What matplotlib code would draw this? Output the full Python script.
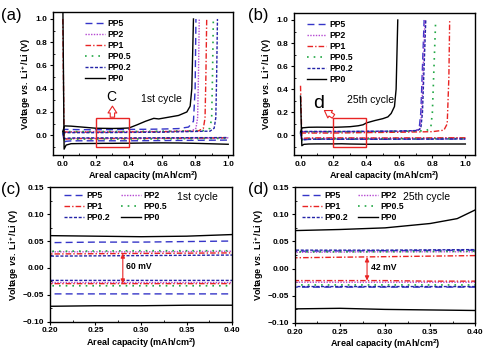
import matplotlib
matplotlib.use('Agg')
import matplotlib.pyplot as plt
from matplotlib.patches import Rectangle
from matplotlib.ticker import MultipleLocator

plt.rcParams['font.family'] = ['Liberation Sans', 'DejaVu Sans']
plt.rcParams['mathtext.fontset'] = 'custom'
plt.rcParams['mathtext.rm'] = 'Liberation Sans:bold'
plt.rcParams['mathtext.it'] = 'Liberation Sans:italic:bold'
plt.rcParams['mathtext.bf'] = 'Liberation Sans:bold'

# ----- Data ------------------------------------------------------------------------------------------------------- #

SERIES = ['PP5', 'PP2', 'PP1', 'PP0.5', 'PP0.2', 'PP0']

# Plating (negative voltage) share one capacity grid
PLATE_CAP = [0.0, 0.008, 0.02, 0.05, 0.1, 0.2, 0.25, 0.3, 0.35, 0.4, 0.5, 0.6, 0.7, 0.8, 0.9, 1.0]

PLATE_1ST = {
    'PP5':   [0.03, -0.060, -0.052, -0.049, -0.048, -0.048, -0.048, -0.048, -0.048, -0.048, -0.047, -0.046, -0.045, -0.044, -0.043, -0.042],
    'PP2':   [0.02, -0.035, -0.030, -0.028, -0.027, -0.027, -0.027, -0.027, -0.027, -0.027, -0.026, -0.026, -0.025, -0.024, -0.024, -0.023],
    'PP1':   [1.00, -0.040, -0.033, -0.030, -0.029, -0.029, -0.029, -0.029, -0.029, -0.029, -0.028, -0.027, -0.026, -0.025, -0.024, -0.022],
    'PP0.5': [0.02, -0.040, -0.036, -0.034, -0.033, -0.033, -0.033, -0.033, -0.033, -0.033, -0.032, -0.031, -0.030, -0.029, -0.028, -0.027],
    'PP0.2': [0.02, -0.030, -0.026, -0.024, -0.023, -0.023, -0.023, -0.023, -0.023, -0.023, -0.023, -0.022, -0.022, -0.021, -0.021, -0.020],
    'PP0':   [1.20, -0.120, -0.085, -0.073, -0.072, -0.071, -0.070, -0.070, -0.069, -0.069, -0.067, -0.066, -0.067, -0.070, -0.074, -0.078]}

PLATE_25TH = {
    'PP5':   [0.03, -0.045, -0.038, -0.035, -0.034, -0.034, -0.034, -0.034, -0.034, -0.034, -0.034, -0.033, -0.033, -0.032, -0.032, -0.031],
    'PP2':   [0.02, -0.035, -0.028, -0.026, -0.025, -0.025, -0.025, -0.025, -0.025, -0.025, -0.025, -0.024, -0.024, -0.024, -0.023, -0.023],
    'PP1':   [0.43, -0.030, -0.025, -0.023, -0.022, -0.022, -0.022, -0.022, -0.023, -0.023, -0.023, -0.022, -0.022, -0.022, -0.021, -0.021],
    'PP0.5': [0.02, -0.040, -0.033, -0.031, -0.030, -0.030, -0.030, -0.030, -0.030, -0.030, -0.030, -0.029, -0.029, -0.028, -0.028, -0.028],
    'PP0.2': [0.02, -0.045, -0.037, -0.034, -0.033, -0.033, -0.033, -0.033, -0.033, -0.033, -0.033, -0.032, -0.032, -0.032, -0.031, -0.031],
    'PP0':   [0.34, -0.090, -0.078, -0.075, -0.074, -0.074, -0.073, -0.075, -0.076, -0.077, -0.077, -0.076, -0.076, -0.075, -0.075, -0.075]}

# Stripping (positive voltage), capacity and voltage per series
STRIP_CAP_1ST = {
    'PP5':   [0.0, 0.01, 0.1, 0.2, 0.25, 0.3, 0.35, 0.4, 0.5, 0.6, 0.7, 0.76, 0.79, 0.80, 0.805],
    'PP2':   [0.0, 0.01, 0.2, 0.3, 0.4, 0.6, 0.78, 0.805, 0.815, 0.82, 0.825],
    'PP1':   [0.0, 0.01, 0.2, 0.3, 0.4, 0.6, 0.82, 0.85, 0.86, 0.865, 0.87],
    'PP0.5': [0.0, 0.01, 0.2, 0.3, 0.4, 0.6, 0.86, 0.89, 0.90, 0.905, 0.91],
    'PP0.2': [0.0, 0.01, 0.2, 0.3, 0.4, 0.6, 0.89, 0.915, 0.925, 0.93, 0.935],
    'PP0':   [0.0, 0.01, 0.05, 0.1, 0.2, 0.25, 0.3, 0.35, 0.4, 0.45, 0.5, 0.55, 0.58, 0.62, 0.7, 0.75, 0.77, 0.78, 0.785, 0.79]}
STRIP_V_1ST = {
    'PP5':   [0.03, 0.050, 0.048, 0.047, 0.048, 0.048, 0.049, 0.050, 0.051, 0.053, 0.057, 0.070, 0.120, 0.400, 1.0],
    'PP2':   [0.02, 0.030, 0.030, 0.030, 0.031, 0.032, 0.038, 0.060, 0.150, 0.500, 1.0],
    'PP1':   [0.02, 0.027, 0.026, 0.027, 0.028, 0.030, 0.037, 0.060, 0.150, 0.500, 1.0],
    'PP0.5': [0.02, 0.031, 0.031, 0.032, 0.032, 0.034, 0.040, 0.060, 0.150, 0.500, 1.0],
    'PP0.2': [0.02, 0.022, 0.022, 0.023, 0.024, 0.026, 0.035, 0.060, 0.150, 0.500, 1.0],
    'PP0':   [0.03, 0.080, 0.078, 0.072, 0.060, 0.059, 0.058, 0.059, 0.062, 0.090, 0.120, 0.145, 0.140, 0.150, 0.170, 0.200, 0.250, 0.400, 0.700, 1.0]}

STRIP_CAP_25TH = {
    'PP5':   [0.0, 0.01, 0.2, 0.3, 0.4, 0.6, 0.70, 0.72, 0.73, 0.74, 0.75],
    'PP2':   [0.0, 0.01, 0.2, 0.3, 0.4, 0.6, 0.70, 0.725, 0.735, 0.745, 0.755],
    'PP1':   [0.0, 0.01, 0.2, 0.3, 0.4, 0.6, 0.80, 0.87, 0.89, 0.90, 0.905],
    'PP0.5': [0.0, 0.01, 0.2, 0.3, 0.4, 0.6, 0.76, 0.79, 0.80, 0.81, 0.82],
    'PP0.2': [0.0, 0.01, 0.2, 0.3, 0.4, 0.6, 0.71, 0.73, 0.74, 0.75, 0.76],
    'PP0':   [0.0, 0.01, 0.05, 0.1, 0.2, 0.25, 0.3, 0.35, 0.38, 0.4, 0.45, 0.5, 0.53, 0.55, 0.57, 0.58, 0.585, 0.59]}
STRIP_V_25TH = {
    'PP5':   [0.02, 0.032, 0.032, 0.033, 0.034, 0.036, 0.040, 0.060, 0.200, 0.600, 1.0],
    'PP2':   [0.02, 0.030, 0.030, 0.031, 0.031, 0.033, 0.038, 0.060, 0.200, 0.600, 1.0],
    'PP1':   [0.015, 0.020, 0.020, 0.022, 0.024, 0.027, 0.032, 0.045, 0.100, 0.500, 1.0],
    'PP0.5': [0.02, 0.031, 0.031, 0.031, 0.032, 0.034, 0.040, 0.060, 0.200, 0.600, 1.0],
    'PP0.2': [0.02, 0.034, 0.034, 0.034, 0.035, 0.037, 0.042, 0.060, 0.200, 0.600, 1.0],
    'PP0':   [0.03, 0.065, 0.070, 0.071, 0.070, 0.072, 0.075, 0.083, 0.092, 0.108, 0.128, 0.145, 0.160, 0.190, 0.250, 0.400, 0.700, 1.0]}

# Overpotential annotations in the zoomed panels (x, top, bottom, label)
GAP_1ST = (0.28, 0.027, -0.029, '60 mV')
GAP_25TH = (0.28, 0.021, -0.022, '42 mV')

# ----- Styles ----------------------------------------------------------------------------------------------------- #

STYLES = {
    'PP5':   dict(color='#3535c8', ls=(0, (5, 3)), lw=1.0),
    'PP2':   dict(color='#b548d2', ls=(0, (1, 1)), lw=1.0),
    'PP1':   dict(color='#e82424', ls=(0, (4, 1.5, 1, 1.5)), lw=1.0),
    'PP0.5': dict(color='#22a845', ls=(0, (1, 3)), lw=1.2),
    'PP0.2': dict(color='#2424a8', ls=(0, (2.2, 1.2)), lw=1.0),
    'PP0':   dict(color='black', ls='-', lw=1.0)}

TICK_FONT = 6
LABEL_FONT = 6.5
LEGEND_FONT = 6.2
RED = '#e82424'


def style_axes(ax, xmaj, xmin, ymaj, ymin):
    ax.xaxis.set_major_locator(MultipleLocator(xmaj))
    ax.xaxis.set_minor_locator(MultipleLocator(xmin))
    ax.yaxis.set_major_locator(MultipleLocator(ymaj))
    ax.yaxis.set_minor_locator(MultipleLocator(ymin))
    ax.tick_params(which='major', direction='out', length=2.5, width=0.8, labelsize=TICK_FONT, pad=1.5)
    ax.tick_params(which='minor', direction='in', length=1.5, width=0.6)
    for lab in ax.get_xticklabels() + ax.get_yticklabels():
        lab.set_fontweight('bold')
    for sp in ax.spines.values():
        sp.set_linewidth(1.0)
    ax.set_xlabel(r'Areal capacity (mAh/cm$^2$)', fontsize=LABEL_FONT, fontweight='bold', labelpad=1.5)
    ax.set_ylabel(r'Voltage $vs.$ Li$^+$/Li (V)', fontsize=LABEL_FONT, fontweight='bold', labelpad=1.5)


def draw_curves(ax, plate, strip_cap, strip_v):
    handles = {}
    for name in SERIES:
        st = STYLES[name]
        line, = ax.plot(PLATE_CAP, plate[name], label=name, **st)
        ax.plot(strip_cap[name], strip_v[name], **st)
        handles[name] = line
    return handles


def hollow_arrow(ax, start, end):
    ax.annotate('', xy=end, xytext=start,
                arrowprops=dict(arrowstyle='simple,head_width=0.9,head_length=0.7,tail_width=0.45',
                                mutation_scale=7, shrinkA=0, shrinkB=0, fc='white', ec=RED, lw=0.8))


fig = plt.figure(figsize=(4.94, 3.53), dpi=100)

# ----- (a) first cycle overview ----------------------------------------------------------------------------------- #
ax_a = fig.add_axes([0.107, 0.561, 0.365, 0.405])
h = draw_curves(ax_a, PLATE_1ST, STRIP_CAP_1ST, STRIP_V_1ST)
ax_a.set_xlim(-0.06, 1.03)
ax_a.set_ylim(-0.17, 1.06)
style_axes(ax_a, 0.2, 0.1, 0.2, 0.1)
ax_a.add_patch(Rectangle((0.2, -0.1), 0.2, 0.25, fill=False, ec=RED, lw=1.0, zorder=5))
hollow_arrow(ax_a, (0.3, 0.155), (0.3, 0.25))
ax_a.text(0.29, 0.27, 'C', fontsize=10, ha='center', va='bottom')
ax_a.text(0.47, 0.31, '1st cycle', fontsize=7.5, ha='left', va='center')
ax_a.legend([h[n] for n in SERIES], SERIES, loc='upper left', bbox_to_anchor=(0.18, 0.95),
            frameon=False, borderpad=0, borderaxespad=0, handlelength=2.3, handletextpad=0.3,
            labelspacing=0.22, prop=dict(size=LEGEND_FONT, weight='bold'))
fig.text(0.003, 0.978, '(a)', fontsize=12, ha='left', va='top')

# ----- (b) 25th cycle overview ------------------------------------------------------------------------------------ #
ax_b = fig.add_axes([0.595, 0.561, 0.367, 0.402])
h = draw_curves(ax_b, PLATE_25TH, STRIP_CAP_25TH, STRIP_V_25TH)
ax_b.set_xlim(-0.04, 1.06)
ax_b.set_ylim(-0.17, 1.06)
style_axes(ax_b, 0.2, 0.1, 0.2, 0.1)
ax_b.add_patch(Rectangle((0.2, -0.1), 0.2, 0.25, fill=False, ec=RED, lw=1.0, zorder=5))
hollow_arrow(ax_b, (0.2, 0.165), (0.145, 0.215))
ax_b.text(0.11, 0.2, 'd', fontsize=14, ha='center', va='bottom')
ax_b.text(0.28, 0.31, '25th cycle', fontsize=7.5, ha='left', va='center')
ax_b.legend([h[n] for n in SERIES], SERIES, loc='upper left', bbox_to_anchor=(0.07, 0.95),
            frameon=False, borderpad=0, borderaxespad=0, handlelength=2.3, handletextpad=0.3,
            labelspacing=0.22, prop=dict(size=LEGEND_FONT, weight='bold'))
fig.text(0.503, 0.978, '(b)', fontsize=12, ha='left', va='top')

# ----- (c), (d) zoomed windows ------------------------------------------------------------------------------------ #
ZOOM_ORDER = ['PP5', 'PP1', 'PP0.2', 'PP2', 'PP0.5', 'PP0']

for pos, plate, scap, sv, gap, cyc, cx, lab, lx, legx in [
        ([0.101, 0.088, 0.369, 0.382], PLATE_1ST, STRIP_CAP_1ST, STRIP_V_1ST, GAP_1ST, '1st cycle', 0.81,
         '(c)', 0.003, 0.08),
        ([0.597, 0.085, 0.365, 0.385], PLATE_25TH, STRIP_CAP_25TH, STRIP_V_25TH, GAP_25TH, '25th cycle', 0.73,
         '(d)', 0.503, 0.04)]:
    ax = fig.add_axes(pos)
    h = draw_curves(ax, plate, scap, sv)
    ax.set_xlim(0.2, 0.4)
    ax.set_ylim(-0.1, 0.15)
    style_axes(ax, 0.05, 0.025, 0.05, 0.025)
    gx, gtop, gbot, gtxt = gap
    ax.annotate('', xy=(gx, gbot), xytext=(gx, gtop),
                arrowprops=dict(arrowstyle='<|-|>,head_width=0.12,head_length=0.25', color=RED, lw=0.8,
                                shrinkA=0, shrinkB=0))
    ax.text(gx + 0.004, (gtop + gbot) / 2 + 0.003, gtxt, fontsize=6.2, fontweight='bold', ha='left', va='center')
    ax.text(cx, 0.925, cyc, fontsize=7.5, ha='center', va='center', transform=ax.transAxes)
    ax.legend([h[n] for n in ZOOM_ORDER], ZOOM_ORDER, ncol=2, loc='upper left', bbox_to_anchor=(legx, 0.97),
              frameon=False, borderpad=0, borderaxespad=0, handlelength=2.3, handletextpad=0.3,
              labelspacing=0.25, columnspacing=1.2, prop=dict(size=LEGEND_FONT, weight='bold'))
    fig.text(lx, 0.485, lab, fontsize=12, ha='left', va='top')

fig.savefig('out.png', dpi=100)
